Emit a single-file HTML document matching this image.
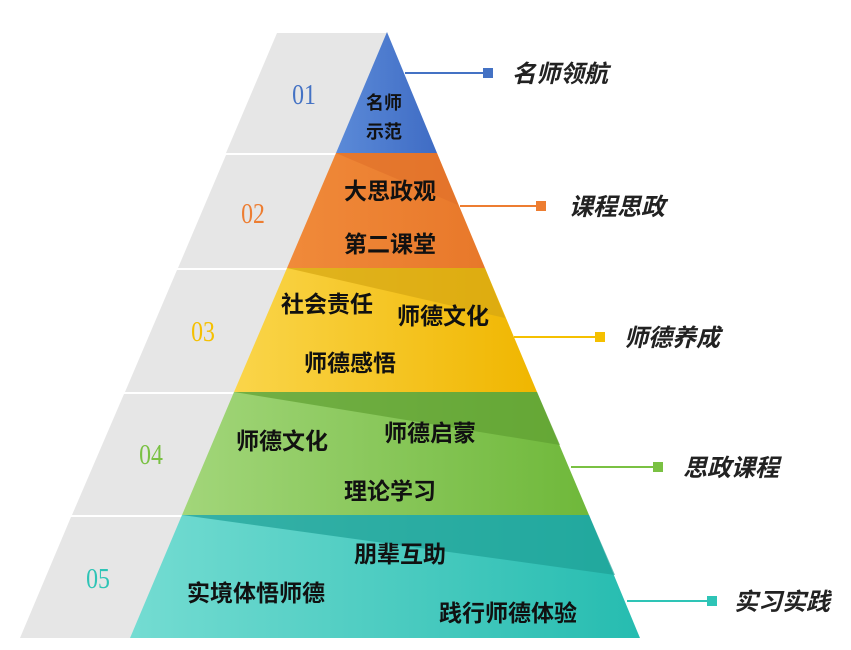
<!DOCTYPE html>
<html><head><meta charset="utf-8"><style>
html,body{margin:0;padding:0;background:#fff;}
svg{display:block;}
text{font-family:"Liberation Sans","Noto Sans CJK SC",sans-serif;}
.t{font-weight:bold;font-size:23px;fill:#111;}
.n{font-family:"Liberation Serif",serif;font-size:28px;}
.r{font-style:italic;font-size:24px;fill:#222;font-weight:bold;}
</style></head><body>
<svg width="851" height="650" viewBox="0 0 851 650">
<defs>
<linearGradient id="gb" x1="0" y1="0" x2="1" y2="0"><stop offset="0" stop-color="#5b8ad8"/><stop offset="1" stop-color="#3f6cc4"/></linearGradient>
<linearGradient id="go" x1="0" y1="0" x2="1" y2="0"><stop offset="0" stop-color="#f08a3a"/><stop offset="1" stop-color="#e8782a"/></linearGradient>
<linearGradient id="gy" x1="0" y1="0" x2="1" y2="0"><stop offset="0" stop-color="#fad54a"/><stop offset="1" stop-color="#f0b600"/></linearGradient>
<linearGradient id="gg" x1="0" y1="0" x2="1" y2="0"><stop offset="0" stop-color="#a2d67a"/><stop offset="1" stop-color="#6fb83a"/></linearGradient>
<linearGradient id="gt" x1="0" y1="0" x2="1" y2="0"><stop offset="0" stop-color="#74dcd2"/><stop offset="1" stop-color="#26bcb0"/></linearGradient>
</defs>
<polygon points="277,33 387,33 336,153 226,153" fill="#e6e6e6"/>
<polygon points="226,155 336,155 287,268 178,268" fill="#e6e6e6"/>
<polygon points="177,270 287,270 234,392 125,392" fill="#e6e6e6"/>
<polygon points="124,394 234,394 182,515 72,515" fill="#e6e6e6"/>
<polygon points="71,517 182,517 130,638 20,638" fill="#e6e6e6"/>
<polygon points="387,32 437,153 336,153" fill="url(#gb)"/>
<polygon points="336,153 437,153 485,268 287,268" fill="url(#go)"/>
<polygon points="336,153 437,153 458,205" fill="#e0702a" opacity="0.6"/>
<polygon points="287,268 485,268 537,392 234,392" fill="url(#gy)"/>
<polygon points="287,268 485,268 505,318" fill="#d6a612" opacity="0.7"/>
<polygon points="234,392 537,392 589,515 182,515" fill="url(#gg)"/>
<polygon points="234,392 537,392 560,445" fill="#5fa032" opacity="0.7"/>
<polygon points="182,515 589,515 640,638 130,638" fill="url(#gt)"/>
<polygon points="182,515 589,515 615,575" fill="#1e9f96" opacity="0.7"/>
<g transform="translate(304,104) scale(0.85,1)"><text class="n" text-anchor="middle" fill="#4472c4">01</text></g>
<g transform="translate(253,223) scale(0.85,1)"><text class="n" text-anchor="middle" fill="#ed7d31">02</text></g>
<g transform="translate(203,341) scale(0.85,1)"><text class="n" text-anchor="middle" fill="#f5c000">03</text></g>
<g transform="translate(151,464) scale(0.85,1)"><text class="n" text-anchor="middle" fill="#7ac143">04</text></g>
<g transform="translate(98,588) scale(0.85,1)"><text class="n" text-anchor="middle" fill="#2ec4b6">05</text></g>
<text class="t" style="font-size:18px" x="384" y="109" text-anchor="middle">名师</text>
<text class="t" style="font-size:18px" x="384" y="138" text-anchor="middle">示范</text>
<text class="t" x="390" y="199" text-anchor="middle">大思政观</text>
<text class="t" x="390" y="252" text-anchor="middle">第二课堂</text>
<text class="t" x="327" y="312" text-anchor="middle">社会责任</text>
<text class="t" x="443" y="324" text-anchor="middle">师德文化</text>
<text class="t" x="350" y="371" text-anchor="middle">师德感悟</text>
<text class="t" x="282" y="449" text-anchor="middle">师德文化</text>
<text class="t" x="430" y="441" text-anchor="middle">师德启蒙</text>
<text class="t" x="390" y="499" text-anchor="middle">理论学习</text>
<text class="t" x="400" y="562" text-anchor="middle">朋辈互助</text>
<text class="t" x="256" y="601" text-anchor="middle">实境体悟师德</text>
<text class="t" x="508" y="621" text-anchor="middle">践行师德体验</text>
<line x1="405" y1="73" x2="486" y2="73" stroke="#4472c4" stroke-width="2"/>
<rect x="483" y="68" width="10" height="10" fill="#4472c4"/>
<text class="r" x="512" y="82">名师领航</text>
<line x1="460" y1="206" x2="540" y2="206" stroke="#ed7d31" stroke-width="2"/>
<rect x="536" y="201" width="10" height="10" fill="#ed7d31"/>
<text class="r" x="569" y="215">课程思政</text>
<line x1="514" y1="337" x2="600" y2="337" stroke="#f5c000" stroke-width="2"/>
<rect x="595" y="332" width="10" height="10" fill="#f5c000"/>
<text class="r" x="624" y="346">师德养成</text>
<line x1="571" y1="467" x2="658" y2="467" stroke="#7ac143" stroke-width="2"/>
<rect x="653" y="462" width="10" height="10" fill="#7ac143"/>
<text class="r" x="683" y="476">思政课程</text>
<line x1="627" y1="601" x2="712" y2="601" stroke="#2ec4b6" stroke-width="2"/>
<rect x="707" y="596" width="10" height="10" fill="#2ec4b6"/>
<text class="r" x="734" y="610">实习实践</text>
</svg>
</body></html>
